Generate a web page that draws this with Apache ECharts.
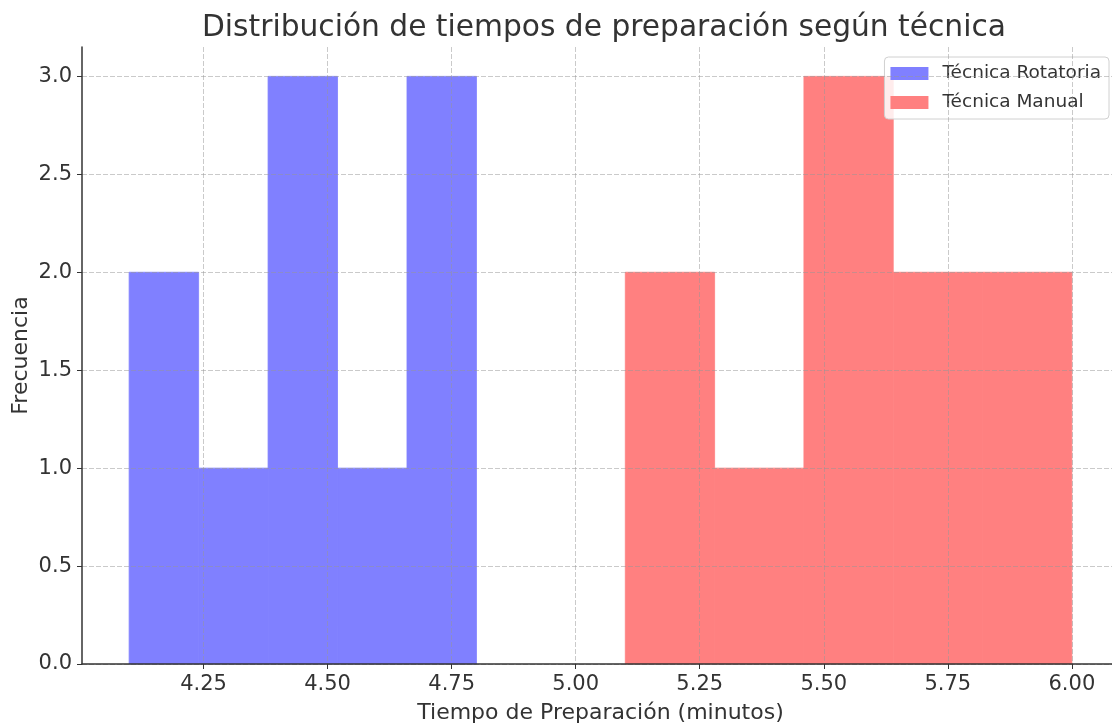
<!DOCTYPE html>
<html>
<head>
<meta charset="utf-8">
<script src="https://cdn.jsdelivr.net/npm/echarts@6/dist/echarts.min.js"></script>
<style>
html,body{margin:0;padding:0;background:#fff;}
#chart{width:1112px;height:725px;}
</style>
</head>
<body>
<div id="chart"></div>
<script>
// Data
const rotatoriaEdges = [4.10, 4.24, 4.38, 4.52, 4.66, 4.80];
const rotatoriaCounts = [2, 1, 3, 1, 3];
const manualEdges = [5.10, 5.28, 5.46, 5.64, 5.82, 6.00];
const manualCounts = [2, 1, 3, 2, 2];
const xTicks = [4.25, 4.50, 4.75, 5.00, 5.25, 5.50, 5.75, 6.00];
const yTicks = [0.0, 0.5, 1.0, 1.5, 2.0, 2.5, 3.0];
const seriesNames = ['Técnica Rotatoria', 'Técnica Manual'];

function toBins(edges, counts) {
  return counts.map((c, i) => [edges[i], edges[i + 1], c]);
}

function renderBin(params, api) {
  const x0 = api.value(0), x1 = api.value(1), c = api.value(2);
  const p0 = api.coord([x0, c]);
  const p1 = api.coord([x1, 0]);
  const col = api.visual('color');
  return {
    type: 'rect',
    shape: { x: p0[0], y: p0[1], width: p1[0] - p0[0], height: p1[1] - p0[1] },
    style: { fill: col, stroke: col, lineWidth: 0.8 }
  };
}

const FONT = 'DejaVu Sans';
const GRID = 'rgba(150,150,150,0.5)';
const chart = echarts.init(document.getElementById('chart'), null, { renderer: 'canvas' });
chart.setOption({
  animation: false,
  backgroundColor: '#fff',
  textStyle: { fontFamily: FONT },
  title: {
    text: 'Distribución de tiempos de preparación según técnica',
    left: 197, top: 8,
    textStyle: { fontFamily: FONT, fontSize: 29.7, fontWeight: 'normal', color: '#333' }
  },
  legend: {
    orient: 'vertical',
    right: 3, top: 57,
    data: [
      { name: seriesNames[0], icon: 'rect' },
      { name: seriesNames[1], icon: 'rect' }
    ],
    itemWidth: 38, itemHeight: 13, itemGap: 10,
    padding: [7, 8, 7, 6],
    borderColor: '#d0d0d0', borderWidth: 1, borderRadius: 4,
    backgroundColor: 'rgba(255,255,255,0.85)',
    textStyle: { fontFamily: FONT, fontSize: 18.5, color: '#333', padding: [0, 0, 0, 9] }
  },
  grid: { left: 82, right: -7, top: 47, bottom: 61, containLabel: false, outerBoundsMode: 'none' },
  xAxis: {
    type: 'value', min: 4.005, max: 6.095, z: 5,
    name: 'Tiempo de Preparación (minutos)', nameLocation: 'middle', nameGap: 38,
    nameTextStyle: { fontFamily: FONT, fontSize: 22, color: '#333' },
    axisLine: { lineStyle: { color: '#333', width: 1.5 } },
    axisTick: { show: true, length: 5, lineStyle: { color: '#333' }, customValues: xTicks },
    axisLabel: { customValues: xTicks, fontFamily: FONT, fontSize: 21, color: '#333', margin: 10,
                 formatter: v => v.toFixed(2) },
    splitLine: { show: true, lineStyle: { color: GRID, type: [5, 2], width: 1 } }
  },
  yAxis: {
    type: 'value', min: 0, max: 3.15, z: 5,
    name: 'Frecuencia', nameLocation: 'middle', nameGap: 50, nameRotate: 90, nameMoveOverlap: false,
    nameTextStyle: { fontFamily: FONT, fontSize: 22, color: '#333' },
    axisLine: { show: true, lineStyle: { color: '#333', width: 1.5 } },
    axisTick: { show: true, length: 5, lineStyle: { color: '#333' }, customValues: yTicks },
    axisLabel: { customValues: yTicks, fontFamily: FONT, fontSize: 21, color: '#333', margin: 10,
                 formatter: v => v.toFixed(1) },
    splitLine: { show: true, lineStyle: { color: GRID, type: [5, 2], width: 1 } }
  },
  series: [
    { name: seriesNames[0], type: 'custom', renderItem: renderBin,
      itemStyle: { color: '#8080ff' }, encode: { x: [0, 1], y: 2 },
      data: toBins(rotatoriaEdges, rotatoriaCounts), z: 1 },
    { name: seriesNames[1], type: 'custom', renderItem: renderBin,
      itemStyle: { color: '#ff8080' }, encode: { x: [0, 1], y: 2 },
      data: toBins(manualEdges, manualCounts), z: 1 }
  ]
});
</script>
</body>
</html>
